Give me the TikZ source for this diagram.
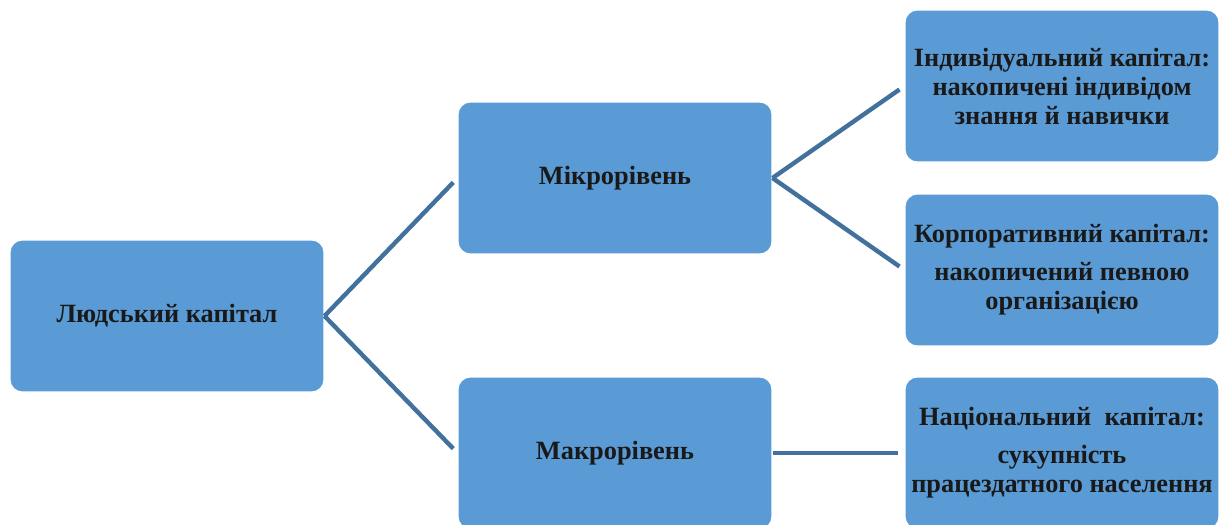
\documentclass[tikz,border=0pt]{standalone}
\usepackage{fontspec}
\setmainfont{Liberation Serif}
\usepackage{xcolor}
\definecolor{boxblue}{HTML}{5B9BD5}
\definecolor{linkblue}{HTML}{41719C}
\tikzset{
  level/.style={rectangle,rounded corners=7pt,fill=boxblue,draw=white,line width=0.6pt,
    minimum width=6.28cm,minimum height=3.04cm,align=center,text=black!90,
    font=\fontsize{15}{16.5}\selectfont\bfseries},
  link/.style={draw=linkblue,line width=2.5pt,shorten >=3.5pt}
}
\begin{document}
\begin{tikzpicture}[x=0.02cm,y=-0.02cm]
\clip (0,0) rectangle (1223,524);
\fill[white] (0,0) rectangle (1223,524);
\node at (167,316) [level] (root) {Людський капітал};
\node at (615,178) [level] (micro) {Мікрорівень};
\node at (615,453) [level] (macro) {Макрорівень};
\node at (1062,86) [level] (indiv) {Індивідуальний капітал:\\накопичені індивідом\\знання й навички};
\node at (1062,270) [level] (corp) {Корпоративний капітал:\\[5pt]накопичений певною\\організацією};
\node at (1062,453) [level] (nation) {Національний\ \ капітал:\\[5pt]сукупність\\працездатного населення};
\draw[link] (root.east) -- (micro.west);
\draw[link] (root.east) -- (macro.west);
\draw[link] (micro.east) -- (indiv.west);
\draw[link] (micro.east) -- (corp.west);
\draw[link] (macro.east) -- (nation.west);
\end{tikzpicture}
\end{document}
